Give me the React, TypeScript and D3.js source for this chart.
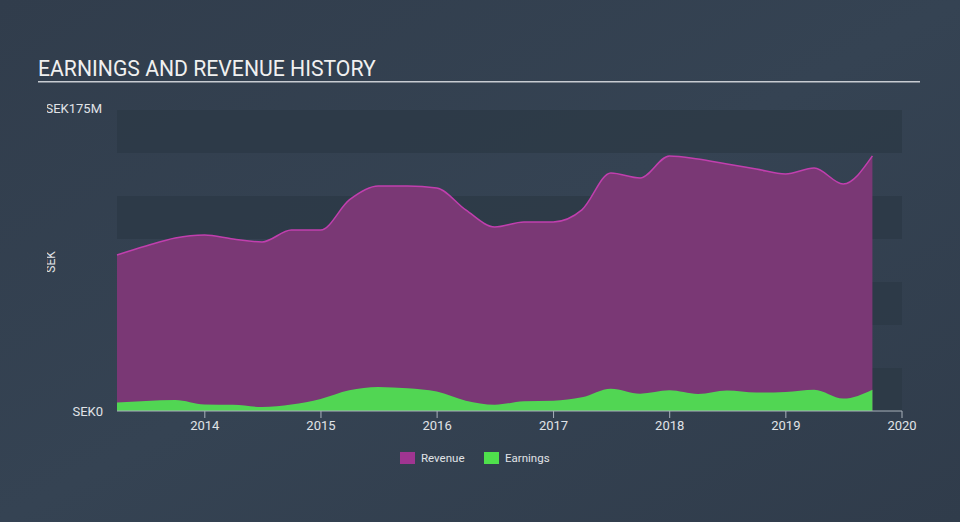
import React from "react";
import * as d3 from "d3";

const quarters: string[] = [
  "2013-03-31","2013-06-30","2013-09-30","2013-12-31",
  "2014-03-31","2014-06-30","2014-09-30","2014-12-31",
  "2015-03-31","2015-06-30","2015-09-30","2015-12-31",
  "2016-03-31","2016-06-30","2016-09-30","2016-12-31",
  "2017-03-31","2017-06-30","2017-09-30","2017-12-31",
  "2018-03-31","2018-06-30","2018-09-30","2018-12-31",
  "2019-03-31","2019-06-30","2019-09-30",
];
const revenue: number[] = [
  90.7, 95.9, 100.6, 102.3, 100.0, 98.3, 105.2, 105.2, 122.7, 130.8, 130.8, 129.7,
  116.9, 107.0, 109.9, 109.9, 116.9, 138.4, 135.5, 148.3, 146.5, 143.6, 140.7, 137.8,
  141.3, 132.0, 148.3,
];
const earnings: number[] = [
  4.9, 5.8, 6.4, 3.8, 3.6, 2.3, 3.8, 7.0, 12.0, 14.0, 13.2, 11.3,
  6.0, 3.7, 5.6, 6.0, 8.0, 13.0, 10.1, 12.0, 9.9, 11.9, 10.7, 11.1,
  12.4, 7.2, 12.4,
];
const yearTicks: number[] = [2014, 2015, 2016, 2017, 2018, 2019, 2020];
const yMax = 175;
const bandStep = 25;

const W = 960, H = 522;
const left = 117, right = 902, top = 110, bottom = 411;

export default function App() {
  const dates = quarters.map((q) => new Date(q));
  const x = d3.scaleTime()
    .domain([dates[0], new Date("2020-01-01")])
    .range([left, right]);
  const y = d3.scaleLinear().domain([0, yMax]).range([bottom, top]);

  const revArea = d3.area<number>()
    .x((_, i) => x(dates[i]))
    .y0(y(0))
    .y1((d) => y(d))
    .curve(d3.curveMonotoneX);
  const revLine = d3.line<number>()
    .x((_, i) => x(dates[i]))
    .y((d) => y(d))
    .curve(d3.curveMonotoneX);
  const earnArea = d3.area<number>()
    .x((_, i) => x(dates[i]))
    .y0(y(0))
    .y1((d) => y(d))
    .curve(d3.curveMonotoneX);

  const bands: number[] = d3.range(0, yMax, bandStep).filter((_, i) => i % 2 === 0);

  return (
    <svg width={W} height={H} style={{ position: "absolute", left: 0, top: 0, display: "block" }}
      fontFamily="Roboto, 'Open Sans', sans-serif">
      <defs>
        <linearGradient id="bg" x1="0" y1="0" x2="1" y2="1">
          <stop offset="0" stopColor="#313d4c" />
          <stop offset="0.5" stopColor="#354353" />
          <stop offset="1" stopColor="#303c4b" />
        </linearGradient>
        <clipPath id="leftclip">
          <rect x={47} y={0} width={W} height={H} />
        </clipPath>
      </defs>
      <rect x={0} y={0} width={W} height={H} fill="url(#bg)" />
      <text x={38} y={76} fill="#f0f0f0" fontSize={21.2} fontWeight={400}>EARNINGS AND REVENUE HISTORY</text>
      <rect x={38} y={81} width={882} height={1.5} fill="#c8ccd2" />

      {bands.map((b) => (
        <rect key={b} x={left} width={right - left} y={y(b + bandStep)} height={y(b) - y(b + bandStep)} fill="#2d3947" opacity={0.85} />
      ))}

      <path d={revArea(revenue) || ""} fill="#7a3875" />
      <path d={revLine(revenue) || ""} fill="none" stroke="#c13fae" strokeWidth={1.5} />
      <path d={earnArea(earnings) || ""} fill="#51d653" />

      <line x1={left} x2={right} y1={bottom} y2={bottom} stroke="#a9b1bb" strokeWidth={1} />
      {yearTicks.map((t) => {
        const xx = x(new Date(`${t}-01-01`));
        return (
          <g key={t}>
            <line x1={xx} x2={xx} y1={bottom} y2={bottom + 7} stroke="#a9b1bb" strokeWidth={1} />
            <text x={xx} y={430} textAnchor="middle" fill="#e0e3e7" fontSize={13}>{t}</text>
          </g>
        );
      })}

      <g clipPath="url(#leftclip)">
        <text x={102} y={113} textAnchor="end" fill="#e0e3e7" fontSize={13}>SEK175M</text>
        <text transform={`translate(55,262) rotate(-90)`} textAnchor="middle" fill="#e0e3e7" fontSize={12}>SEK</text>
      </g>
      <text x={103} y={416} textAnchor="end" fill="#e0e3e7" fontSize={13}>SEK0</text>

      <rect x={400} y={452} width={15} height={12} fill="#a03591" />
      <text x={421} y={462} fill="#e0e3e7" fontSize={11.5}>Revenue</text>
      <rect x={484} y={452} width={15} height={12} fill="#4fe04c" />
      <text x={505} y={462} fill="#e0e3e7" fontSize={11.5}>Earnings</text>
    </svg>
  );
}
